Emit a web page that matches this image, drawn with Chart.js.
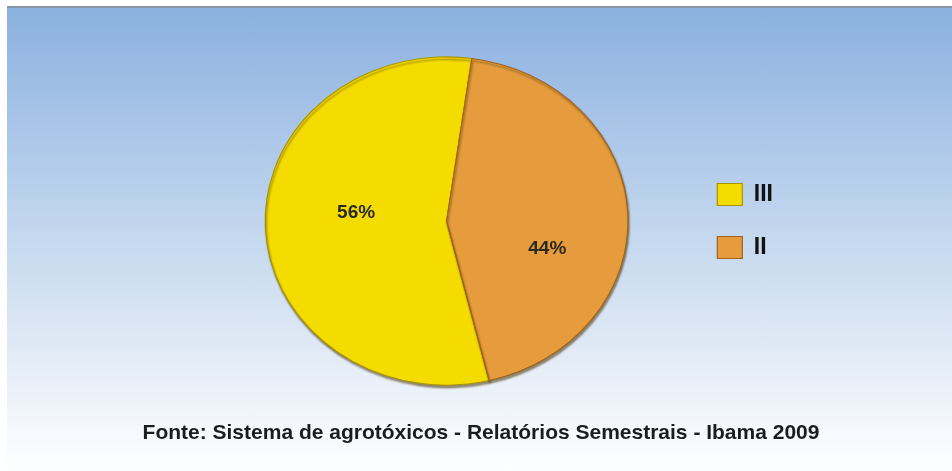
<!DOCTYPE html>
<html>
<head>
<meta charset="utf-8">
<script src="https://cdn.jsdelivr.net/npm/chart.js@4.4.1/dist/chart.umd.min.js"></script>
<style>
  html, body { margin: 0; padding: 0; background: #ffffff; }
  #wrap { position: relative; width: 952px; height: 471px; overflow: hidden; }
  #panel {
    position: absolute; left: 7px; top: 6px; right: 0; bottom: 0;
    border-top: 2px solid #8c96a6;
    background: linear-gradient(to bottom, #8bb1de 0%, #a5c2e7 22%, #c3d7ee 48%, #e2ebf6 75%, #f6f9fd 92%, #fdfeff 100%);
  }
  #chart { position: absolute; left: 0; top: 0; }
</style>
</head>
<body>
<div id="wrap">
  <div id="panel"></div>
  <canvas id="chart" width="952" height="471"></canvas>
</div>
<script>
// Toxicity classes and their share of registered products
const categories = ['III', 'II'];
const shares = [56, 44];
const sliceColors = ['#f5dc00', '#e69c3c'];
const sliceEdges = ['#a89400', '#a0621c'];
const caption = 'Fonte: Sistema de agrotóxicos - Relatórios Semestrais - Ibama 2009';

// vertical squash that gives the pie its tilted look
const squashY = 0.905;
// pixel nudges for the percentage labels
const labelNudge = [[0, -12], [10, 32]];

Chart.defaults.font.family = '"Liberation Sans", Arial, sans-serif';

const tiltPlugin = {
  id: 'tilt',
  beforeDatasetsDraw(chart) {
    const ctx = chart.ctx;
    const a = chart.getDatasetMeta(0).data[0];
    ctx.save();
    ctx.translate(a.x, a.y);
    ctx.scale(1, squashY);
    ctx.translate(-a.x, -a.y);
    ctx.shadowColor = 'rgba(70, 50, 0, 0.55)';
    ctx.shadowOffsetX = 1;
    ctx.shadowOffsetY = 2.5;
    ctx.shadowBlur = 2;
  },
  afterDatasetsDraw(chart) {
    chart.ctx.restore();
  }
};

const valueLabelPlugin = {
  id: 'valueLabels',
  afterDatasetsDraw(chart) {
    const ctx = chart.ctx;
    const meta = chart.getDatasetMeta(0);
    const total = shares.reduce((s, v) => s + v, 0);
    ctx.save();
    ctx.font = 'bold 19px "Liberation Sans", Arial, sans-serif';
    ctx.fillStyle = '#2a2a1e';
    ctx.textAlign = 'center';
    ctx.textBaseline = 'middle';
    meta.data.forEach((arc, i) => {
      const p = arc.getProps(['x', 'y', 'startAngle', 'endAngle', 'outerRadius']);
      const mid = (p.startAngle + p.endAngle) / 2;
      const r = p.outerRadius * 0.5;
      const x = p.x + Math.cos(mid) * r + labelNudge[i][0];
      const y = p.y + Math.sin(mid) * r * squashY + labelNudge[i][1];
      ctx.fillText(Math.round(shares[i] / total * 100) + '%', x, y);
    });
    ctx.restore();
  }
};

const captionPlugin = {
  id: 'caption',
  afterDraw(chart) {
    const ctx = chart.ctx;
    ctx.save();
    ctx.font = 'bold 21px "Liberation Sans", Arial, sans-serif';
    ctx.fillStyle = '#1c1c1c';
    ctx.textAlign = 'center';
    ctx.textBaseline = 'middle';
    ctx.fillText(caption, 481, 433);
    ctx.restore();
  }
};

new Chart(document.getElementById('chart'), {
  type: 'pie',
  data: {
    labels: categories,
    datasets: [{
      data: shares,
      backgroundColor: sliceColors,
      borderColor: sliceEdges,
      borderWidth: 1.2
    }]
  },
  options: {
    responsive: false,
    animation: false,
    rotation: 166.4,
    layout: { padding: { left: 206, right: 169, top: 39, bottom: 68 } },
    plugins: {
      tooltip: { enabled: false },
      legend: {
        position: 'right',
        labels: {
          boxWidth: 25,
          boxHeight: 22,
          padding: 30,
          color: '#111111',
          font: { size: 23, weight: 'bold' }
        }
      }
    }
  },
  plugins: [tiltPlugin, valueLabelPlugin, captionPlugin]
});
</script>
</body>
</html>
